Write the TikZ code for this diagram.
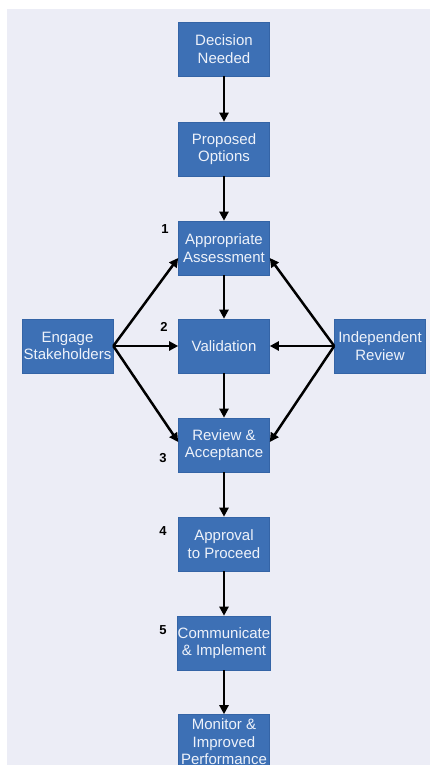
\documentclass[tikz,border=0pt]{standalone}
\usepackage{fontspec}
\setmainfont{Liberation Sans}
\usetikzlibrary{arrows.meta}
\definecolor{bgc}{HTML}{ECEDF6}
\definecolor{boxc}{HTML}{3D70B5}
\definecolor{boxb}{HTML}{3464A6}
\definecolor{txtc}{HTML}{EEF2FA}
\begin{document}
\begin{tikzpicture}[x=1pt,y=-1pt,
  stage/.style={draw=boxb,line width=0.6pt,fill=boxc,text=txtc,minimum width=91pt,minimum height=54pt,inner sep=0pt,align=center,font=\fontsize{15}{17.5}\selectfont},
  flow/.style={line width=2.5pt,-{Triangle[length=9pt,width=9pt]}},
  num/.style={font=\fontsize{13}{15}\selectfont\bfseries,inner sep=0pt}]
\useasboundingbox (0,0) rectangle (430,765);
\fill[white] (0,0) rectangle (430,765);
\fill[bgc] (7,9) rectangle (430,765);
\node[stage] (dec) at (224,49) {Decision\\Needed};
\node[stage] (prop) at (224,149) {Proposed\\Options};
\node[stage] (app) at (224,248) {Appropriate\\Assessment};
\node[stage] (val) at (224,346) {Validation};
\node[stage] (rev) at (224,445) {Review \&\\Acceptance};
\node[stage] (apr) at (224,544) {Approval\\to Proceed};
\node[stage] (com) at (224,643) {Communicate\\\& Implement};
\node[stage,minimum height=55pt] (mon) at (224,742) {Monitor \&\\Improved\\Performance};
\node[stage] (eng) at (67.5,346) {Engage\\Stakeholders};
\node[stage] (ind) at (380,346) {Independent\\Review};
\node[num] (n1) at (165,229) {1};
\node[num] (n2) at (164,327) {2};
\node[num] (n3) at (163,458) {3};
\node[num] (n4) at (163,531) {4};
\node[num] (n5) at (163,630) {5};
\draw[flow] (dec) -- (prop);
\draw[flow] (prop) -- (app);
\draw[flow] (app) -- (val);
\draw[flow] (val) -- (rev);
\draw[flow] (rev) -- (apr);
\draw[flow] (apr) -- (com);
\draw[flow] (com) -- (mon);
\draw[flow] (eng.east) -- ([yshift=-10pt]app.west);
\draw[flow] (eng.east) -- (val.west);
\draw[flow] (eng.east) -- ([yshift=3pt]rev.west);
\draw[flow] (ind.west) -- ([yshift=-10pt]app.east);
\draw[flow] (ind.west) -- (val.east);
\draw[flow] (ind.west) -- ([yshift=3pt]rev.east);
\end{tikzpicture}
\end{document}
